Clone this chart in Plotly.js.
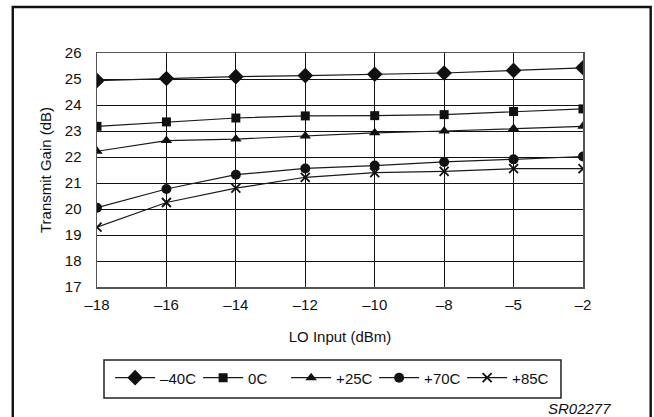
<!DOCTYPE html>
<html>
<head>
<meta charset="utf-8">
<script src="https://cdn.plot.ly/plotly-3.0.1.min.js"></script>
<style>
  html, body { margin: 0; padding: 0; background: #fff; }
  #chart { width: 654px; height: 417px; }
</style>
</head>
<body>
<div id="chart"></div>
<script>
// LO drive levels (dBm), shown as evenly spaced categories
const loInput = ['–18', '–16', '–14', '–12', '–10', '–8', '–5', '–2'];

// Transmit gain (dB) per temperature
const gainM40 = [24.94, 25.02, 25.09, 25.13, 25.18, 25.23, 25.33, 25.43];
const gain0   = [23.18, 23.35, 23.50, 23.58, 23.59, 23.63, 23.75, 23.85];
const gain25  = [22.22, 22.63, 22.69, 22.81, 22.93, 23.00, 23.10, 23.18];
const gain70  = [20.05, 20.77, 21.32, 21.56, 21.67, 21.81, 21.91, 22.02];
const gain85  = [19.30, 20.25, 20.80, 21.22, 21.40, 21.45, 21.55, 21.55];

const seriesNames = ['–40C', '0C', '+25C', '+70C', '+85C'];
const seriesData = [gainM40, gain0, gain25, gain70, gain85];
const symbols = ['diamond', 'square', 'triangle-up', 'circle', 'x-thin'];
const sizes = [12, 9, 10, 10, 9];

const FONT = 'Liberation Sans, Arial, sans-serif';

const traces = seriesData.map((ys, i) => ({
  type: 'scatter',
  mode: 'lines+markers',
  name: seriesNames[i],
  x: loInput,
  y: ys,
  cliponaxis: true,
  line: { color: '#1a1a1a', width: 1.2 },
  marker: {
    symbol: symbols[i],
    size: sizes[i],
    color: '#111',
    line: { color: '#111', width: symbols[i] === 'x-thin' ? 1.8 : 0 }
  }
}));

// plot area: 97..583 px wide, 53..287 px tall
const layout = {
  width: 654,
  height: 417,
  margin: { l: 97, r: 71, t: 53, b: 130 },
  paper_bgcolor: '#fff',
  plot_bgcolor: '#fff',
  font: { family: FONT, size: 15, color: '#111' },
  showlegend: true,
  xaxis: {
    type: 'category',
    range: [0, loInput.length - 1],
    showgrid: true,
    gridcolor: '#111',
    gridwidth: 1,
    showline: true,
    linecolor: '#555',
    linewidth: 1.5,
    mirror: true,
    zeroline: false,
    ticks: '',
    ticklabelstandoff: 3,
    tickfont: { family: FONT, size: 15, color: '#111' },
    title: { text: 'LO Input (dBm)', font: { family: FONT, size: 15, color: '#111' }, standoff: 20 }
  },
  yaxis: {
    range: [17, 26],
    dtick: 1,
    tick0: 17,
    showgrid: true,
    gridcolor: '#111',
    gridwidth: 1,
    showline: true,
    linecolor: '#555',
    linewidth: 1.5,
    mirror: true,
    zeroline: false,
    ticks: '',
    ticklabelstandoff: 11,
    tickfont: { family: FONT, size: 15, color: '#111' },
    title: { text: 'Transmit Gain (dB)', font: { family: FONT, size: 15, color: '#111' }, standoff: 9 }
  },
  legend: {
    orientation: 'h',
    x: 0.027,
    xanchor: 'left',
    y: -0.318,
    yanchor: 'top',
    bgcolor: 'rgba(0,0,0,0)',
    borderwidth: 0,
    itemwidth: 40,
    entrywidth: 33,
    itemclick: false,
    font: { family: FONT, size: 15, color: '#111' }
  },
  shapes: [
    // outer figure frame
    { type: 'rect', xref: 'paper', yref: 'paper', x0: -0.1733, x1: 1.1393, y0: -0.6, y1: 1.1966,
      line: { color: '#111', width: 2.4 }, fillcolor: 'rgba(0,0,0,0)', layer: 'below' },
    // legend box
    { type: 'rect', xref: 'paper', yref: 'paper', x0: 0.0144, x1: 0.9547, y0: -0.474, y1: -0.312,
      line: { color: '#222', width: 1.5 }, fillcolor: 'rgba(0,0,0,0)', layer: 'below' }
  ],
  annotations: [
    { xref: 'paper', yref: 'paper', x: 0.992, y: -0.521, xanchor: 'center', yanchor: 'middle',
      text: '<i>SR02277</i>', showarrow: false, font: { family: FONT, size: 15, color: '#111' } }
  ]
};

Plotly.newPlot('chart', traces, layout, { displayModeBar: false, staticPlot: true });
</script>
</body>
</html>
